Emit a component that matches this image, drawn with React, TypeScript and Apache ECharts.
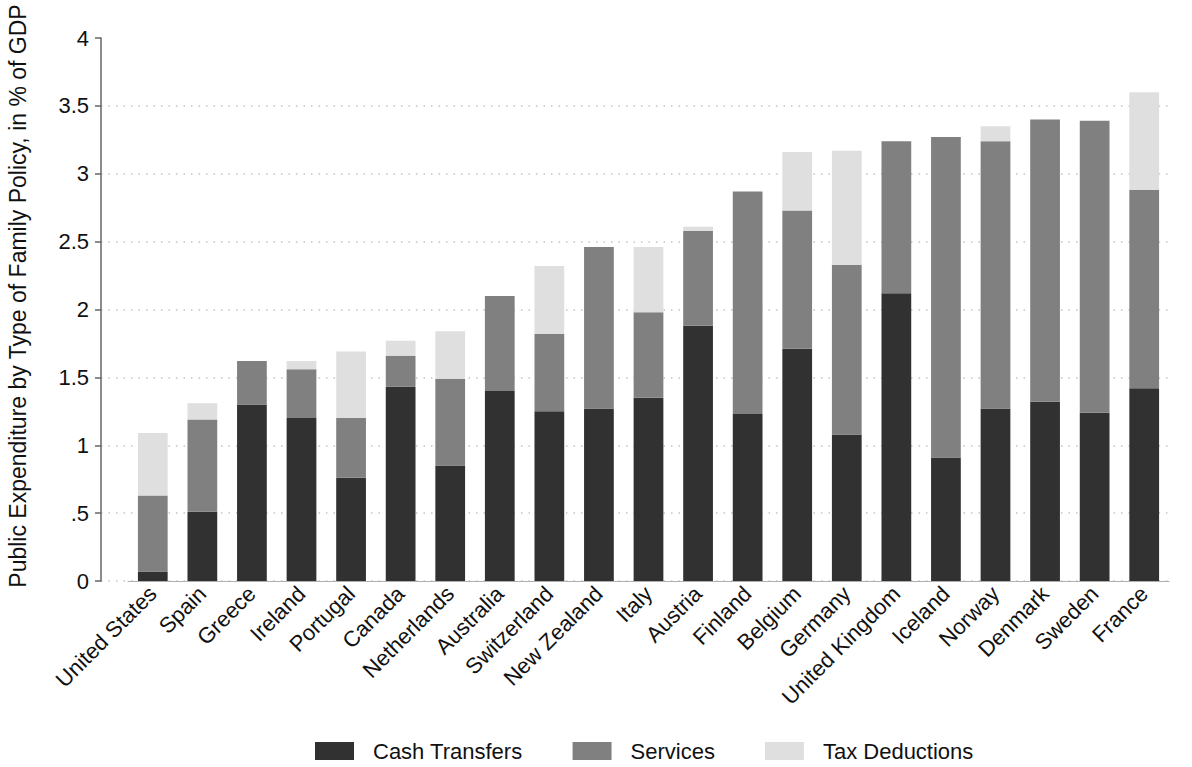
import React, { useEffect, useRef } from "react";
import * as echarts from "echarts";

const countries = [
  "United States", "Spain", "Greece", "Ireland", "Portugal", "Canada", "Netherlands",
  "Australia", "Switzerland", "New Zealand", "Italy", "Austria", "Finland", "Belgium",
  "Germany", "United Kingdom", "Iceland", "Norway", "Denmark", "Sweden", "France",
];
const cashTransfers = [0.07, 0.51, 1.30, 1.20, 0.76, 1.43, 0.85, 1.40, 1.25, 1.27, 1.35, 1.88, 1.23, 1.71, 1.08, 2.12, 0.91, 1.27, 1.32, 1.24, 1.42];
const services = [0.56, 0.68, 0.32, 0.36, 0.44, 0.23, 0.64, 0.70, 0.57, 1.19, 0.63, 0.70, 1.64, 1.02, 1.25, 1.12, 2.36, 1.97, 2.08, 2.15, 1.46];
const taxDeductions = [0.46, 0.12, 0, 0.06, 0.49, 0.11, 0.35, 0, 0.50, 0, 0.48, 0.03, 0, 0.43, 0.84, 0, 0, 0.11, 0, 0, 0.72];
const yTicks = [0, 0.5, 1, 1.5, 2, 2.5, 3, 3.5, 4];
const yTickLabels = ["0", ".5", "1", "1.5", "2", "2.5", "3", "3.5", "4"];
const yTitle = "Public Expenditure by Type of Family Policy, in % of GDP";

const FONT = "'Liberation Sans', Arial, Helvetica, sans-serif";

export default function App() {
  const ref = useRef<HTMLDivElement>(null);
  useEffect(() => {
    if (!ref.current) return;
    const chart = echarts.init(ref.current, null, { renderer: "svg" });
    const labelFor = (v: number) => {
      const i = yTicks.findIndex((t) => Math.abs(t - v) < 1e-6);
      return i >= 0 ? yTickLabels[i] : "";
    };
    chart.setOption({
      animation: false,
      backgroundColor: "#ffffff",
      textStyle: { fontFamily: FONT },
      grid: [
        { left: 101, right: 22, top: 38, bottom: 186 },
        { left: 128, right: 23, top: 38, bottom: 186 },
      ],
      xAxis: [
        { type: "value", gridIndex: 0, show: false, min: 0, max: 1 },
        {
          type: "category",
          gridIndex: 1,
          data: countries,
          boundaryGap: true,
          axisLine: { show: true, lineStyle: { color: "#b0b0b0", width: 1 } },
          axisTick: { show: false },
          axisLabel: {
            interval: 0,
            rotate: 45,
            fontSize: 22,
            color: "#111",
            fontFamily: FONT,
            margin: 9,
          },
        },
      ],
      yAxis: [
        {
          type: "value",
          gridIndex: 0,
          min: 0,
          max: 4,
          interval: 0.5,
          axisLine: { show: true, lineStyle: { color: "#666", width: 1.5 } },
          axisTick: { show: true, length: 6, lineStyle: { color: "#666", width: 1.5 } },
          axisLabel: {
            fontSize: 22,
            color: "#111",
            fontFamily: FONT,
            margin: 12,
            formatter: (v: number) => labelFor(v),
          },
          splitLine: {
            show: true,
            showMinLine: true,
            showMaxLine: false,
            lineStyle: { color: "#c4c4c4", type: [1.5, 6], width: 1.5 },
          },
        },
        { type: "value", gridIndex: 1, min: 0, max: 4, show: false },
      ],
      legend: {
        left: 310,
        top: 735,
        itemWidth: 39,
        itemHeight: 18,
        itemGap: 50,
        icon: "rect",
        textStyle: { fontSize: 22, color: "#111", fontFamily: FONT, padding: [0, 0, 0, 14] },
        data: ["Cash Transfers", "Services", "Tax Deductions"],
      },
      graphic: [
        {
          type: "text",
          x: 18,
          y: 296,
          rotation: Math.PI / 2,
          style: {
            text: yTitle,
            fontSize: 23,
            fontFamily: FONT,
            fill: "#111",
            align: "center",
            verticalAlign: "middle",
          },
        },
      ],
      series: [
        {
          name: "Cash Transfers",
          type: "bar",
          stack: "total",
          xAxisIndex: 1,
          yAxisIndex: 1,
          barWidth: "60%",
          itemStyle: { color: "#313131" },
          data: cashTransfers,
        },
        {
          name: "Services",
          type: "bar",
          stack: "total",
          xAxisIndex: 1,
          yAxisIndex: 1,
          barWidth: "60%",
          itemStyle: { color: "#808080" },
          data: services,
        },
        {
          name: "Tax Deductions",
          type: "bar",
          stack: "total",
          xAxisIndex: 1,
          yAxisIndex: 1,
          barWidth: "60%",
          itemStyle: { color: "#dfdfdf" },
          data: taxDeductions,
        },
      ],
    });
    return () => chart.dispose();
  }, []);
  return (
    <div
      ref={ref}
      style={{ position: "fixed", left: 0, top: 0, width: 1192, height: 767, background: "#fff" }}
    />
  );
}
